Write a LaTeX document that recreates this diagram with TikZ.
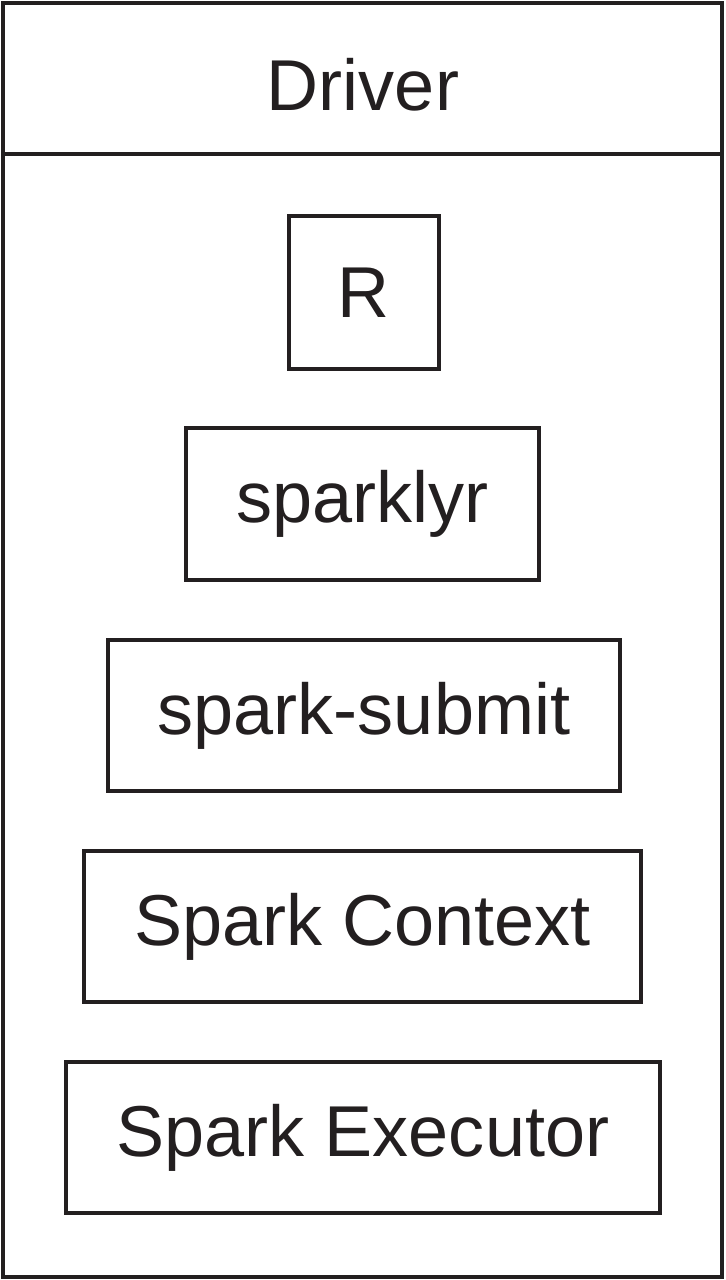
\documentclass[tikz,border=0pt]{standalone}
\usepackage{fontspec}
\setmainfont{Liberation Sans}
\definecolor{inkgray}{HTML}{231F20}
\tikzset{
  layerbox/.style={draw=inkgray, text=inkgray, line width=0.07cm, inner sep=0pt, font=\fontsize{41}{47}\selectfont},
  framebox/.style={draw=inkgray, line width=0.07cm}
}
\begin{document}
\begin{tikzpicture}[x=0.02cm, y=-0.02cm]
                \useasboundingbox (0,0) rectangle (726,1280);%
                
                % Drawing outer frame of the driver
                \draw [framebox] (3,3) rectangle (722,1277);%
                
                % Drawing header line
                \coordinate (hl) at (3,154);%
                \coordinate (hr) at (722,154);%
                \draw [framebox] (hl) -- (hr);%
                \node (driver) at (363,85) [text=inkgray, font=\fontsize{41}{47}\selectfont] {Driver};%
                
                % Drawing layer boxes
                \node (r) at (364,292.5) [layerbox, minimum width=150*0.02cm, minimum height=153*0.02cm] {R};%
                \node (sparklyr) at (362.5,504) [layerbox, minimum width=353*0.02cm, minimum height=152*0.02cm] {sparklyr};%
                \node (submit) at (364,715.5) [layerbox, minimum width=512*0.02cm, minimum height=151*0.02cm] {spark-submit};%
                \node (context) at (362.5,926.5) [layerbox, minimum width=557*0.02cm, minimum height=151*0.02cm] {Spark Context};%
                \node (executor) at (363,1137.5) [layerbox, minimum width=594*0.02cm, minimum height=151*0.02cm] {Spark Executor};%
\end{tikzpicture}
\end{document}
